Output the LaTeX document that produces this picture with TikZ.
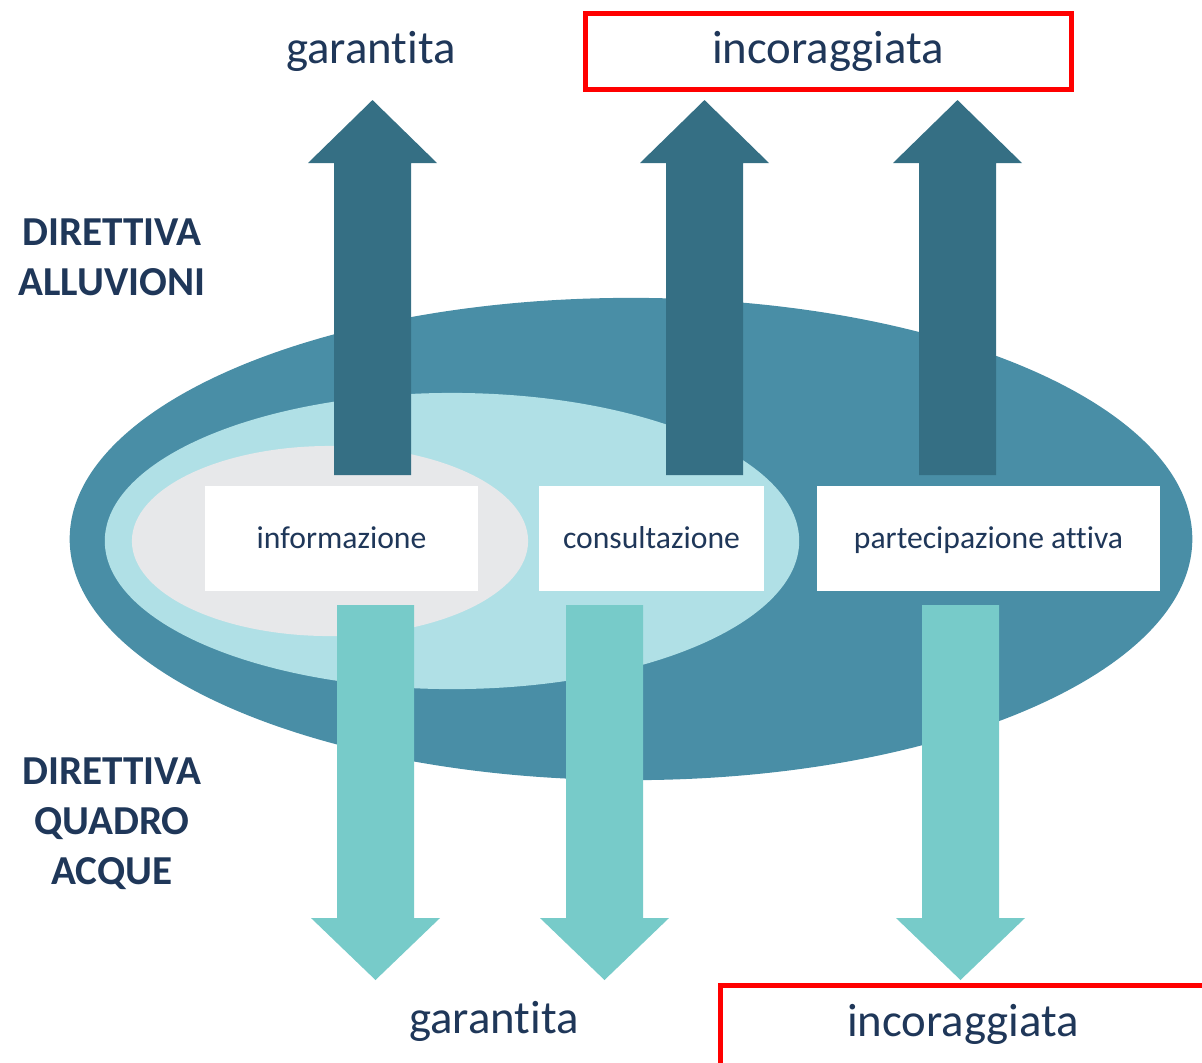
\documentclass[tikz,border=0pt]{standalone}
\usepackage{fontspec}
\setmainfont{Carlito}[Ligatures=NoCommon]
\usepackage{xcolor}
\usetikzlibrary{positioning}

\definecolor{navy}{RGB}{31,55,89}
\definecolor{outerblue}{RGB}{73,142,166}
\definecolor{innerblue}{RGB}{176,224,230}
\definecolor{coregrey}{RGB}{231,232,234}
\definecolor{darkarrow}{RGB}{53,111,132}
\definecolor{lightarrow}{RGB}{119,203,201}

\begin{document}
\begin{tikzpicture}[x=0.01cm, y=-0.01cm,
    phase/.style={fill=white, inner sep=0pt, minimum height=1.05cm, text height=1.6ex, text depth=0.45ex, text=navy, font=\fontsize{9}{11}\selectfont},
    level/.style={text=navy, inner sep=0pt, text height=1.6ex, text depth=0.45ex, font=\fontsize{13.3}{16}\selectfont},
    directive/.style={text=navy, align=center, inner sep=0pt, font=\bfseries\fontsize{11.7}{14.2}\selectfont},
    redframe/.style={draw=red, line width=0.05cm}]
    \useasboundingbox (0,0) rectangle (1202,1062);

    % Ellipses
    \fill[outerblue] (631,539) ellipse [x radius=5.61cm, y radius=2.41cm];
    \fill[innerblue] (452,541) ellipse [x radius=3.47cm, y radius=1.48cm];
    \fill[coregrey] (330,541) ellipse [x radius=1.98cm, y radius=0.95cm];

    % Up arrows
    \foreach \cx in {372.5, 704.5, 957.5}
        \fill[darkarrow] (\cx-38.5,475) -- (\cx-38.5,163) -- (\cx-64.5,163) -- (\cx,100)
            -- (\cx+64.5,163) -- (\cx+38.5,163) -- (\cx+38.5,475) -- cycle;

    % Down arrows
    \foreach \cx in {375.5, 604.5, 960.5}
        \fill[lightarrow] (\cx-38.5,605) -- (\cx-38.5,918) -- (\cx-64.5,918) -- (\cx,980)
            -- (\cx+64.5,918) -- (\cx+38.5,918) -- (\cx+38.5,605) -- cycle;

    % Nodes
    \node [phase, minimum width=2.73cm] (info) at (341.5,538.5) {informazione};
    \node [phase, minimum width=2.25cm] (consult) at (651.5,538.5) {consultazione};
    \node [phase, minimum width=3.43cm] (active) at (988.5,538.5) {partecipazione attiva};

    \node [directive] (floods) at (112,257) {DIRETTIVA\\ALLUVIONI};
    \node [directive] (water) at (112,824) {DIRETTIVA\\QUADRO\\ACQUE};

    \node [level] (topsure) at (371,54) {garantita};
    \node [level] (topcheer) at (828,54) {incoraggiata};
    \node [level] (botsure) at (494,1024) {garantita};
    \node [level] (botcheer) at (963,1027) {incoraggiata};

    % Frames
    \draw[redframe] (585.5,13.5) rectangle (1071.5,89.5);
    \draw[redframe] (720.5,985.5) rectangle (1215,1075);
\end{tikzpicture}
\end{document}
